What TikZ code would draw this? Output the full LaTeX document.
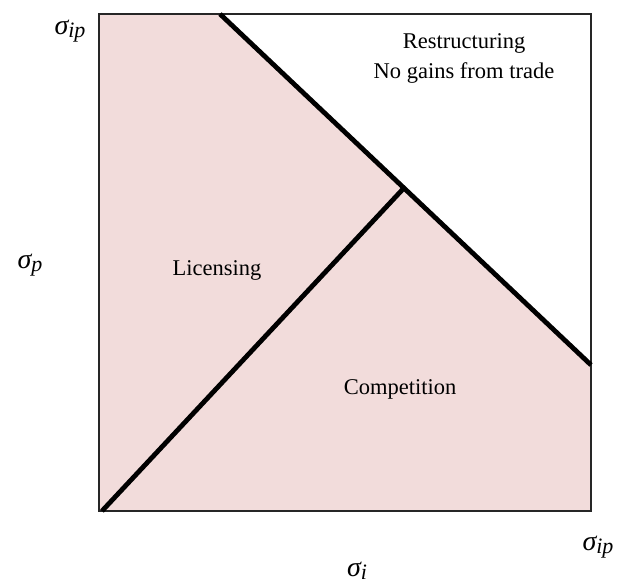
\documentclass[tikz,border=0pt]{standalone}
\usepackage{fontspec}
\setmainfont{Liberation Serif}
\definecolor{regionpink}{RGB}{242,220,219}
\newcommand{\sig}[1]{{\fontsize{28}{30}\selectfont\itshape σ}{\fontsize{22}{24}\selectfont\itshape\raisebox{-0.3ex}{#1}}}
\begin{document}
\begin{tikzpicture}[x=1pt,y=-1pt,
  boxline/.style={draw=black!85,line width=1.3pt},
  bound/.style={line width=4.8pt,line cap=butt},
  region/.style={font=\fontsize{22.5}{30}\selectfont,align=center},
  axlabel/.style={inner sep=0pt}]
\useasboundingbox (0,0) rectangle (618,585);
\coordinate (tl) at (99,14);
\coordinate (tr) at (591,14);
\coordinate (br) at (591,511);
\coordinate (bl) at (99,511);
\coordinate (ut) at (220,14);
\coordinate (ur) at (591,365);
\coordinate (mx) at (403,189);
\coordinate (lb) at (102,511);
\fill[regionpink] (tl) -- (ut) -- (ur) -- (br) -- (bl) -- cycle;
\draw[boxline] (tl) rectangle (br);
\draw[bound] (ut) -- (ur);
\draw[bound] (lb) -- (mx);
\node[region] (restr) at (464,58) {Restructuring\\No gains from trade};
\node[region] (lic) at (217,270) {Licensing};
\node[region] (comp) at (400,389) {Competition};
\node[axlabel] (sipt) at (70,31) {\sig{ip}};
\node[axlabel] (sp) at (30,265) {\sig{p}};
\node[axlabel] (sipr) at (598,547) {\sig{ip}};
\node[axlabel] (si) at (357,571) {\sig{i}};
\end{tikzpicture}
\end{document}
